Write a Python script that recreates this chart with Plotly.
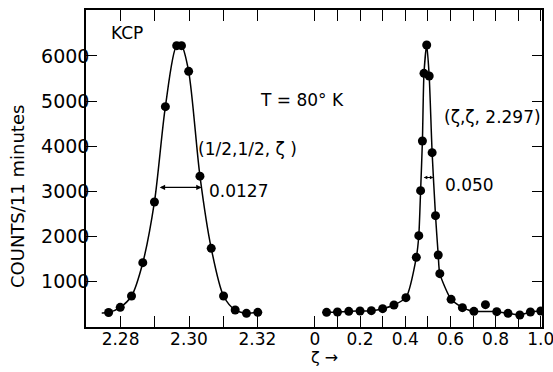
import plotly.graph_objects as go

# Scan along (1/2, 1/2, zeta), zeta near 2.30
scan_l_x = [2.2765, 2.2799, 2.2832, 2.2865, 2.2899, 2.2931, 2.2964, 2.2978,
            2.2999, 2.3032, 2.3065, 2.3101, 2.3135, 2.3168, 2.3201]
scan_l_y = [300, 415, 667, 1407, 2756, 4874, 6230, 6230,
            5659, 3330, 1726, 667, 356, 282, 304]
# drawn guide curve through the left scan
curve_l_x = [2.2745] + scan_l_x
curve_l_y = [290] + scan_l_y

# Scan along (zeta, zeta, 2.297)
scan_r_x = [0.052, 0.10, 0.15, 0.20, 0.25, 0.30, 0.35, 0.403, 0.449, 0.460,
            0.468, 0.476, 0.483, 0.495, 0.506, 0.519, 0.534, 0.546, 0.553,
            0.603, 0.653, 0.704, 0.755, 0.805, 0.855, 0.907, 0.954, 1.00]
scan_r_y = [304, 311, 326, 333, 341, 385, 467, 630, 1526, 2007,
            3007, 4111, 5615, 6244, 5555, 3852, 2452, 1578, 1163,
            593, 408, 326, 474, 319, 282, 244, 311, 333]
# guide curve skips the stray point at 0.755
curve_r_x = [x for x in scan_r_x if x != 0.755]
curve_r_y = [y for x, y in zip(scan_r_x, scan_r_y) if x != 0.755]

# half-maximum widths
fwhm_l = (2.2910, 2.3037, 3080)
fwhm_r = (0.475, 0.525, 3300)

y_ticks = [1000, 2000, 3000, 4000, 5000, 6000]
xl_ticks = [2.28, 2.29, 2.30, 2.31, 2.32]
xl_text = ["2.28", "", "2.30", "", "2.32"]
xr_ticks = [0, 0.1, 0.2, 0.3, 0.4, 0.5, 0.6, 0.7, 0.8, 0.9, 1.0]
xr_text = ["0", "", "0.2", "", "0.4", "", "0.6", "", "0.8", "", "1.0"]

FONT = "DejaVu Sans"
W, H = 553, 372
L, R, T, B = 86, 11, 10, 45
SPLIT = 0.469


def px(x):
    return (x - L) / (W - L - R)


def py(y):
    return (H - B - y) / (H - T - B)


fig = go.Figure()
line = dict(color="black", width=1.5, shape="spline", smoothing=0.8)
mark = dict(color="black", size=9)

fig.add_trace(go.Scatter(x=curve_l_x, y=curve_l_y, mode="lines", line=line,
                         xaxis="x", yaxis="y", hoverinfo="skip"))
fig.add_trace(go.Scatter(x=scan_l_x, y=scan_l_y, mode="markers", marker=mark,
                         xaxis="x", yaxis="y"))
fig.add_trace(go.Scatter(x=curve_r_x, y=curve_r_y, mode="lines",
                         line=dict(line, smoothing=0.6),
                         xaxis="x2", yaxis="y2", hoverinfo="skip"))
fig.add_trace(go.Scatter(x=scan_r_x, y=scan_r_y, mode="markers", marker=mark,
                         xaxis="x2", yaxis="y2"))

axis_common = dict(showgrid=False, zeroline=False, showline=True,
                   automargin=False,
                   linecolor="black", linewidth=1.5, ticks="inside",
                   tickcolor="black", tickwidth=1.3, ticklen=11,
                   tickfont=dict(family=FONT, size=17, color="black"))

fig.update_layout(
    width=W, height=H,
    margin=dict(l=L, r=R, t=T, b=B, autoexpand=False),
    paper_bgcolor="white", plot_bgcolor="white",
    showlegend=False,
    font=dict(family=FONT, size=17, color="black"),
    xaxis=dict(axis_common, domain=[0, SPLIT], range=[2.2699, 2.3324],
               tickmode="array", tickvals=xl_ticks, ticktext=xl_text,
               mirror="ticks", anchor="y", ticklabelstandoff=-4),
    xaxis2=dict(axis_common, domain=[SPLIT, 1], range=[-0.0664, 1.0053],
                tickmode="array", tickvals=xr_ticks, ticktext=xr_text,
                mirror="ticks", anchor="y2", ticklabelstandoff=-4,
                ticklabeloverflow="allow"),
    yaxis=dict(axis_common, range=[-22, 7022], tickmode="array",
               tickvals=y_ticks, anchor="x", ticklabelstandoff=-9,
               tickfont=dict(family=FONT, size=19, color="black")),
    yaxis2=dict(axis_common, range=[-22, 7022], tickmode="array",
                tickvals=y_ticks, anchor="x2", side="right",
                showticklabels=False, ticklen=10),
)

# half-width arrows
fig.add_annotation(x=fwhm_l[1], y=fwhm_l[2], ax=fwhm_l[0], ay=fwhm_l[2],
                   xref="x", yref="y", axref="x", ayref="y", text="",
                   showarrow=True, arrowhead=2, arrowside="end+start",
                   arrowsize=0.9, arrowwidth=1.2, arrowcolor="black",
                   standoff=0, startstandoff=0)
fig.add_annotation(x=fwhm_r[1], y=fwhm_r[2], ax=fwhm_r[0], ay=fwhm_r[2],
                   xref="x2", yref="y2", axref="x2", ayref="y2", text="",
                   showarrow=True, arrowhead=2, arrowside="end+start",
                   arrowsize=0.6, arrowwidth=1.2, arrowcolor="black",
                   standoff=0, startstandoff=0)


def label(text, x, y, size=17, xanchor="center", angle=0):
    fig.add_annotation(text=text, x=px(x), y=py(y), xref="paper", yref="paper",
                       showarrow=False, xanchor=xanchor, yanchor="middle",
                       textangle=angle,
                       font=dict(family=FONT, size=size, color="black"))


label("KCP", 109, 33, xanchor="left")
label("T = 80° K", 302, 100)
label("(1/2,1/2, ζ )", 247, 149)
label("0.0127", 238, 191)
label("(ζ,ζ, 2.297)", 492, 117)
label("0.050", 469, 185)
label("ζ →", 324, 357, size=16)
label("COUNTS/11 minutes", 17, 197, size=18, angle=-90)

fig.write_html("out.html")
